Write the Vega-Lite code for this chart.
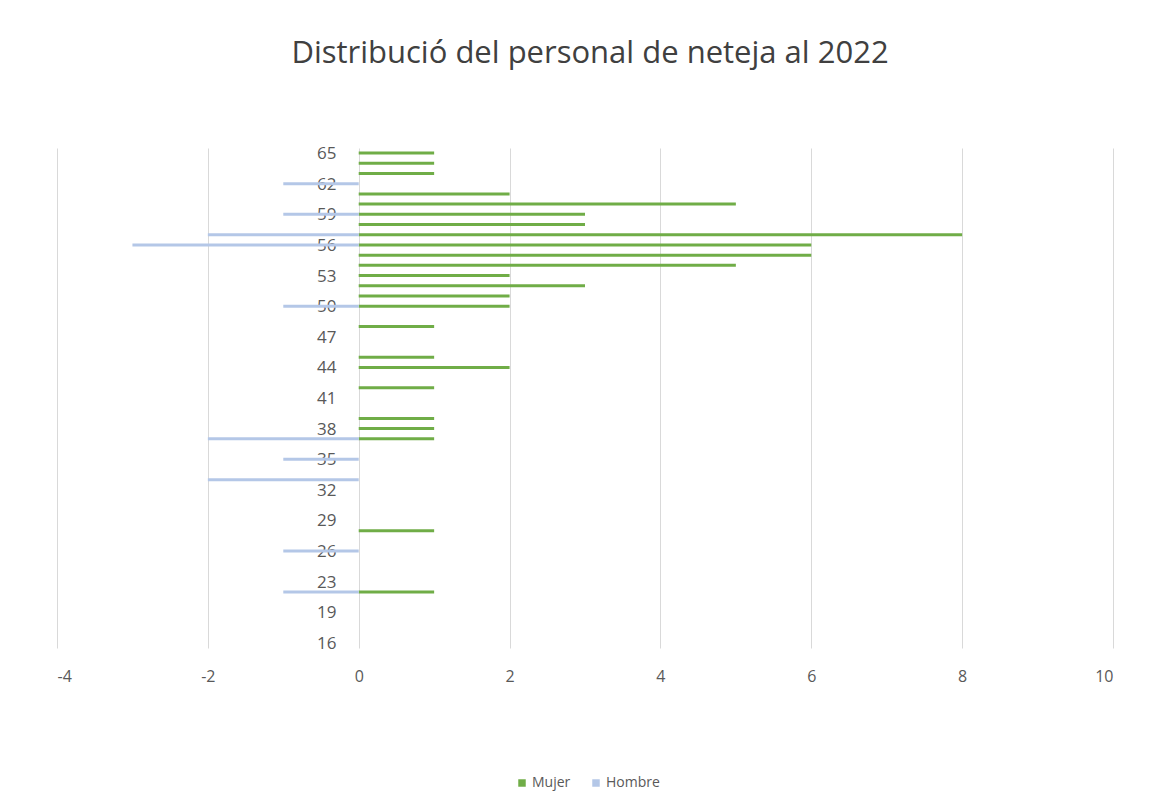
{
  "$schema": "https://vega.github.io/schema/vega-lite/v6.json",
  "width": 1056,
  "height": 500,
  "autosize": {"type": "none"},
  "padding": {"left": 57, "top": 148, "right": 50, "bottom": 163},
  "background": "white",
  "title": {
    "text": "Distribució del personal de neteja al 2022",
    "fontSize": 31,
    "font": "Open Sans",
    "fontWeight": "normal",
    "color": "#404040",
    "anchor": "middle",
    "dx": 5,
    "offset": 75
  },
  "config": {
    "view": {"stroke": null},
    "font": "Open Sans"
  },
  "data": {
    "values": [
      {"edad": "65", "sexo": "Mujer", "valor": 1},
      {"edad": "64", "sexo": "Mujer", "valor": 1},
      {"edad": "63", "sexo": "Mujer", "valor": 1},
      {"edad": "62", "sexo": "Mujer", "valor": 0},
      {"edad": "62", "sexo": "Hombre", "valor": -1},
      {"edad": "61", "sexo": "Mujer", "valor": 2},
      {"edad": "60", "sexo": "Mujer", "valor": 5},
      {"edad": "59", "sexo": "Mujer", "valor": 3},
      {"edad": "59", "sexo": "Hombre", "valor": -1},
      {"edad": "58", "sexo": "Mujer", "valor": 3},
      {"edad": "57", "sexo": "Mujer", "valor": 8},
      {"edad": "57", "sexo": "Hombre", "valor": -2},
      {"edad": "56", "sexo": "Mujer", "valor": 6},
      {"edad": "56", "sexo": "Hombre", "valor": -3},
      {"edad": "55", "sexo": "Mujer", "valor": 6},
      {"edad": "54", "sexo": "Mujer", "valor": 5},
      {"edad": "53", "sexo": "Mujer", "valor": 2},
      {"edad": "52", "sexo": "Mujer", "valor": 3},
      {"edad": "51", "sexo": "Mujer", "valor": 2},
      {"edad": "50", "sexo": "Mujer", "valor": 2},
      {"edad": "50", "sexo": "Hombre", "valor": -1},
      {"edad": "49", "sexo": "Mujer", "valor": 0},
      {"edad": "48", "sexo": "Mujer", "valor": 1},
      {"edad": "47", "sexo": "Mujer", "valor": 0},
      {"edad": "46", "sexo": "Mujer", "valor": 0},
      {"edad": "45", "sexo": "Mujer", "valor": 1},
      {"edad": "44", "sexo": "Mujer", "valor": 2},
      {"edad": "43", "sexo": "Mujer", "valor": 0},
      {"edad": "42", "sexo": "Mujer", "valor": 1},
      {"edad": "41", "sexo": "Mujer", "valor": 0},
      {"edad": "40", "sexo": "Mujer", "valor": 0},
      {"edad": "39", "sexo": "Mujer", "valor": 1},
      {"edad": "38", "sexo": "Mujer", "valor": 1},
      {"edad": "37", "sexo": "Mujer", "valor": 1},
      {"edad": "37", "sexo": "Hombre", "valor": -2},
      {"edad": "36", "sexo": "Mujer", "valor": 0},
      {"edad": "35", "sexo": "Mujer", "valor": 0},
      {"edad": "35", "sexo": "Hombre", "valor": -1},
      {"edad": "34", "sexo": "Mujer", "valor": 0},
      {"edad": "33", "sexo": "Mujer", "valor": 0},
      {"edad": "33", "sexo": "Hombre", "valor": -2},
      {"edad": "32", "sexo": "Mujer", "valor": 0},
      {"edad": "31", "sexo": "Mujer", "valor": 0},
      {"edad": "30", "sexo": "Mujer", "valor": 0},
      {"edad": "29", "sexo": "Mujer", "valor": 0},
      {"edad": "28", "sexo": "Mujer", "valor": 1},
      {"edad": "27", "sexo": "Mujer", "valor": 0},
      {"edad": "26", "sexo": "Mujer", "valor": 0},
      {"edad": "26", "sexo": "Hombre", "valor": -1},
      {"edad": "25", "sexo": "Mujer", "valor": 0},
      {"edad": "24", "sexo": "Mujer", "valor": 0},
      {"edad": "23", "sexo": "Mujer", "valor": 0},
      {"edad": "21", "sexo": "Mujer", "valor": 1},
      {"edad": "21", "sexo": "Hombre", "valor": -1},
      {"edad": "20", "sexo": "Mujer", "valor": 0},
      {"edad": "19", "sexo": "Mujer", "valor": 0},
      {"edad": "18", "sexo": "Mujer", "valor": 0},
      {"edad": "17", "sexo": "Mujer", "valor": 0},
      {"edad": "16", "sexo": "Mujer", "valor": 0}
    ]
  },
  "mark": {"type": "bar", "size": 3},
  "encoding": {
    "y": {
      "field": "edad",
      "type": "ordinal",
      "sort": "descending",
      "scale": {"paddingInner": 0, "paddingOuter": 0},
      "axis": {
        "title": null,
        "offset": -302,
        "domain": false,
        "ticks": false,
        "labelPadding": 23,
        "labelFontSize": 17,
        "labelColor": "#595959",
        "labelFont": "Open Sans",
        "labelBaseline": "middle",
        "labelOffset": 1,
        "values": ["65", "62", "59", "56", "53", "50", "47", "44", "41", "38", "35", "32", "29", "26", "23", "19", "16"]
      }
    },
    "x": {
      "field": "valor",
      "type": "quantitative",
      "scale": {"domain": [-4, 10], "nice": false, "zero": false},
      "axis": {
        "title": null,
        "values": [-4, -2, 0, 2, 4, 6, 8, 10],
        "labelExpr": "'' + datum.value",
        "domain": false,
        "ticks": false,
        "grid": true,
        "gridColor": "#d9d9d9",
        "gridWidth": 1,
        "labelPadding": 20,
        "labelFontSize": 16,
        "labelColor": "#595959",
        "labelFont": "Open Sans"
      }
    },
    "color": {
      "field": "sexo",
      "type": "nominal",
      "scale": {"domain": ["Mujer", "Hombre"], "range": ["#70AD47", "#B4C7E7"]},
      "legend": {
        "title": null,
        "orient": "none",
        "legendX": 458,
        "legendY": 628,
        "direction": "horizontal",
        "symbolType": "square",
        "symbolSize": 56,
        "symbolStrokeWidth": 0,
        "labelFontSize": 14,
        "labelColor": "#595959",
        "labelFont": "Open Sans",
        "columnPadding": 18,
        "labelOffset": 3
      }
    }
  }
}
